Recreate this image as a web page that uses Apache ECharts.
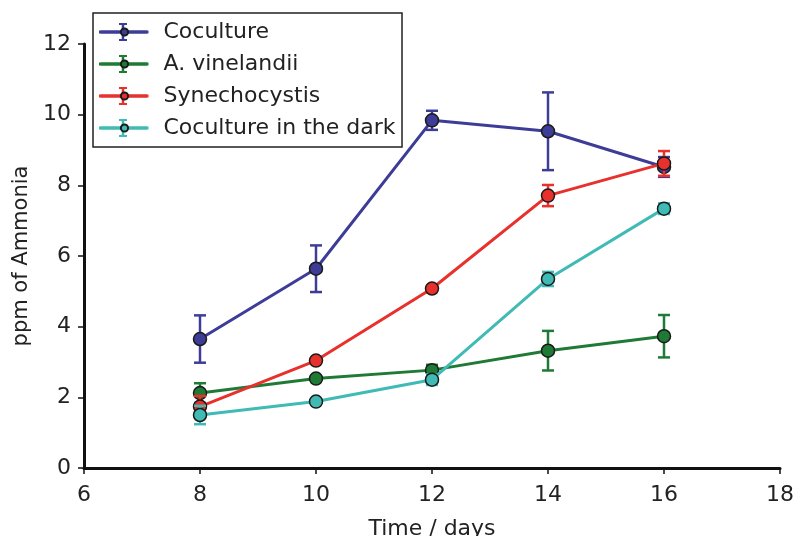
<!DOCTYPE html>
<html>
<head>
<meta charset="utf-8">
<script src="https://cdn.jsdelivr.net/npm/echarts@6/dist/echarts.min.js"></script>
<style>
  html, body { margin: 0; padding: 0; background: #ffffff; }
  #chart { width: 801px; height: 536px; }
</style>
</head>
<body>
<div id="chart"></div>
<script>
// Sampling days
const days = [8, 10, 12, 14, 16];

// Ammonia concentration (ppm) and standard error per condition
const coculture = [3.65, 5.64, 9.84, 9.53, 8.52];
const cocultureErr = [0.67, 0.66, 0.27, 1.10, 0.28];

const vinelandii = [2.12, 2.53, 2.77, 3.32, 3.73];
const vinelandiiErr = [0.28, 0.07, 0.15, 0.56, 0.60];

const synechocystis = [1.74, 3.04, 5.08, 7.71, 8.62];
const synechocystisErr = [0.30, 0.07, 0.08, 0.30, 0.35];

const dark = [1.50, 1.88, 2.50, 5.35, 7.34];
const darkErr = [0.26, 0.07, 0.15, 0.20, 0.15];

const xTicks = [6, 8, 10, 12, 14, 16, 18];
const yTicks = [0, 2, 4, 6, 8, 10, 12];

const seriesDefs = [
  { name: 'Coculture', values: coculture, errors: cocultureErr, color: '#3d3d97' },
  { name: 'A. vinelandii', values: vinelandii, errors: vinelandiiErr, color: '#1f7a35' },
  { name: 'Synechocystis', values: synechocystis, errors: synechocystisErr, color: '#e8302c' },
  { name: 'Coculture in the dark', values: dark, errors: darkErr, color: '#3fbab4' }
];

const FONT = 'DejaVu Sans';
const ERR_SUFFIX = ' error';
const chart = echarts.init(document.getElementById('chart'), null, { renderer: 'canvas' });

// Vertical error bar with caps, drawn in data coordinates
function errorBarRenderer(color) {
  return function (params, api) {
    const x = api.value(0);
    const pLo = api.coord([x, api.value(1)]);
    const pHi = api.coord([x, api.value(2)]);
    const half = 6;
    const style = { stroke: color, lineWidth: 2.5, fill: null };
    return {
      type: 'group',
      children: [
        { type: 'line', shape: { x1: pLo[0], y1: pLo[1], x2: pHi[0], y2: pHi[1] }, style: style },
        { type: 'line', shape: { x1: pLo[0] - half, y1: pLo[1], x2: pLo[0] + half, y2: pLo[1] }, style: style },
        { type: 'line', shape: { x1: pHi[0] - half, y1: pHi[1], x2: pHi[0] + half, y2: pHi[1] }, style: style }
      ]
    };
  };
}

const series = [];
seriesDefs.forEach(function (def, i) {
  series.push({
    name: def.name + ERR_SUFFIX,
    type: 'custom',
    renderItem: errorBarRenderer(def.color),
    itemStyle: { color: def.color },
    data: days.map(function (d, k) { return [d, def.values[k] - def.errors[k], def.values[k] + def.errors[k]]; }),
    encode: { x: 0, y: [1, 2] },
    z: 2 + i * 3,
    silent: true
  });
  series.push({
    name: def.name,
    type: 'line',
    data: days.map(function (d, k) { return [d, def.values[k]]; }),
    symbol: 'circle',
    symbolSize: 13,
    lineStyle: { color: def.color, width: 3 },
    itemStyle: { color: def.color, borderColor: '#1a1a1a', borderWidth: 1.5 },
    z: 3 + i * 3
  });
});

// Shared legend layout; two stacked legends so each key shows both the
// error-bar glyph (underneath) and the line-with-marker glyph (on top).
const legendBase = {
  orient: 'vertical',
  left: 93,
  top: 13,
  padding: [8, 8, 8, 6],
  itemWidth: 48,
  itemGap: 10,
  borderRadius: 0,
  textStyle: { fontFamily: FONT, fontSize: 22, lineHeight: 22, color: '#222', padding: [0, 0, 0, 10] }
};

const errorIcon = 'path://M0 7.5h48v3h-48z M22.75 1h2.5v16h-2.5z M20 0h8v2h-8z M20 16h8v2h-8z';

chart.setOption({
  animation: false,
  backgroundColor: '#ffffff',
  grid: { left: 84, right: 21, top: 44, bottom: 68, containLabel: false, outerBoundsMode: 'none' },
  legend: [
    Object.assign({}, legendBase, {
      data: seriesDefs.map(function (d) { return { name: d.name + ERR_SUFFIX, icon: errorIcon }; }),
      formatter: function (n) { return n.slice(0, n.length - ERR_SUFFIX.length); },
      itemHeight: 18,
      backgroundColor: '#ffffff',
      borderColor: '#222',
      borderWidth: 1.5,
      itemStyle: { borderWidth: 0 },
      textStyle: Object.assign({}, legendBase.textStyle, { color: 'rgba(0,0,0,0)' }),
      z: 4
    }),
    Object.assign({}, legendBase, {
      data: seriesDefs.map(function (d) { return d.name; }),
      itemHeight: 9,
      backgroundColor: 'transparent',
      borderWidth: 0,
      lineStyle: { width: 3 },
      z: 5
    })
  ],
  xAxis: {
    type: 'value',
    min: 6,
    max: 18,
    interval: 2,
    name: 'Time / days',
    nameLocation: 'middle',
    nameGap: 50,
    nameTextStyle: { fontFamily: FONT, fontSize: 22, color: '#222' },
    axisLine: { show: true, onZero: false, lineStyle: { color: '#111', width: 3 } },
    axisTick: { show: true, length: 6, lineStyle: { color: '#111', width: 1.5 } },
    axisLabel: { fontFamily: FONT, fontSize: 22, color: '#222', margin: 16,
      formatter: function (v) { return xTicks.indexOf(v) >= 0 ? String(v) : ''; } },
    splitLine: { show: false }
  },
  yAxis: {
    type: 'value',
    min: 0,
    max: 12,
    interval: 2,
    name: 'ppm of Ammonia',
    nameLocation: 'middle',
    nameGap: 50,
    nameRotate: 90,
    nameTextStyle: { fontFamily: FONT, fontSize: 21, color: '#222' },
    axisLine: { show: true, lineStyle: { color: '#111', width: 3 } },
    axisTick: { show: true, length: 6, lineStyle: { color: '#111', width: 1.5 } },
    axisLabel: { fontFamily: FONT, fontSize: 22, color: '#222', margin: 13,
      formatter: function (v) { return yTicks.indexOf(v) >= 0 ? String(v) : ''; } },
    splitLine: { show: false }
  },
  series: series
});
</script>
</body>
</html>
